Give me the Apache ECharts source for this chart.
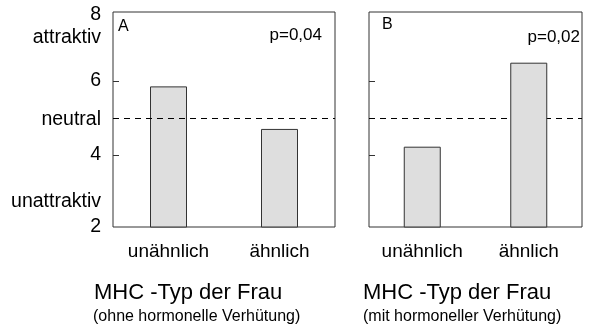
<!DOCTYPE html>
<html>
<head>
<meta charset="utf-8">
<script src="https://cdn.jsdelivr.net/npm/echarts@6/dist/echarts.min.js"></script>
<style>
html,body{margin:0;padding:0;background:#fff;}
#chart{width:594px;height:332px;}
</style>
</head>
<body>
<div id="chart"></div>
<script>
// ---- data ----
const categories = ['unähnlich', 'ähnlich'];
const valuesA = [5.85, 4.7];   // ohne hormonelle Verhütung
const valuesB = [4.22, 6.49];  // mit hormoneller Verhütung
const neutralValue = 5;
const yLabelValues = [7.78, 7.16, 6, 4.95, 4, 2.73, 2.05];
const yLabelTexts  = ['8', 'attraktiv', '6', 'neutral', '4', 'unattraktiv', '2'];
const yTickValues = [4, 6];
const panelLetters = ['A', 'B'];
const pValues = ['p=0,04', 'p=0,02'];
const xTitle = 'MHC -Typ der Frau';
const xSubtitles = ['(ohne hormonelle Verhütung)', '(mit hormoneller Verhütung)'];

const FONT = 'Liberation Sans, Arial, Helvetica, sans-serif';
const INK = '#000';

const chart = echarts.init(document.getElementById('chart'), null, {renderer: 'canvas'});

function yAxis(gridIndex, withLabels) {
  return {
    type: 'value', gridIndex, min: 2.05, max: 7.86,
    splitLine: {show: false},
    axisLine: {show: false},
    axisTick: {show: true, inside: true, length: 6, customValues: yTickValues,
               lineStyle: {color: '#333', width: 1}},
    axisLabel: withLabels ? {
      show: true, customValues: yLabelValues, margin: 12,
      fontFamily: FONT, fontSize: 19.5, color: INK,
      formatter: v => {
        const i = yLabelValues.findIndex(x => Math.abs(x - v) < 1e-6);
        return i >= 0 ? yLabelTexts[i] : '';
      }
    } : {show: false}
  };
}
function xAxis(gridIndex) {
  return {
    type: 'category', gridIndex, data: categories,
    axisLine: {show: false}, axisTick: {show: false}, splitLine: {show: false},
    axisLabel: {fontFamily: FONT, fontSize: 19, color: INK, margin: 15}
  };
}
const barStyle = {color: '#dedede', borderColor: '#333', borderWidth: 1};
function markLine(z) {
  return {
    silent: true, symbol: ['none', 'none'], label: {show: false}, z: z,
    lineStyle: {type: [6, 5], color: '#000', width: 1},
    data: [{yAxis: neutralValue}]
  };
}

const option = {
  animation: false,
  backgroundColor: '#fff',
  grid: [
    {left: 113, top: 12, width: 222, height: 215, show: true, borderColor: '#333', borderWidth: 1, backgroundColor: 'transparent'},
    {left: 369, top: 12, width: 213, height: 215, show: true, borderColor: '#333', borderWidth: 1, backgroundColor: 'transparent'}
  ],
  xAxis: [xAxis(0), xAxis(1)],
  yAxis: [yAxis(0, true), yAxis(1, false)],
  title: [
    {text: panelLetters[0], left: 118, top: 19, padding: 0, textStyle: {fontFamily: FONT, fontSize: 16, fontWeight: 'normal', color: INK}},
    {text: pValues[0], right: 272, top: 27, padding: 0, textStyle: {fontFamily: FONT, fontSize: 17, fontWeight: 'normal', color: INK}},
    {text: panelLetters[1], left: 382, top: 17, padding: 0, textStyle: {fontFamily: FONT, fontSize: 16, fontWeight: 'normal', color: INK}},
    {text: pValues[1], right: 14, top: 29, padding: 0, textStyle: {fontFamily: FONT, fontSize: 17, fontWeight: 'normal', color: INK}},
    {text: xTitle, left: 94, top: 282, padding: 0, textStyle: {fontFamily: FONT, fontSize: 22, fontWeight: 'normal', color: INK}},
    {text: xSubtitles[0], left: 93, top: 309, padding: 0, textStyle: {fontFamily: FONT, fontSize: 16, fontWeight: 'normal', color: INK}},
    {text: xTitle, left: 363, top: 282, padding: 0, textStyle: {fontFamily: FONT, fontSize: 22, fontWeight: 'normal', color: INK}},
    {text: xSubtitles[1], left: 363, top: 309, padding: 0, textStyle: {fontFamily: FONT, fontSize: 16, fontWeight: 'normal', color: INK}}
  ],
  series: [
    {type: 'bar', xAxisIndex: 0, yAxisIndex: 0, data: valuesA, barWidth: 37, itemStyle: barStyle, z: 2,
     markLine: markLine(5)},
    {type: 'bar', xAxisIndex: 1, yAxisIndex: 1, data: [], z: 1, markLine: markLine(1)},
    {type: 'bar', xAxisIndex: 1, yAxisIndex: 1, data: valuesB, barWidth: 37, itemStyle: barStyle, z: 3, barGap: '-100%'}
  ]
};
chart.setOption(option);
</script>
</body>
</html>
